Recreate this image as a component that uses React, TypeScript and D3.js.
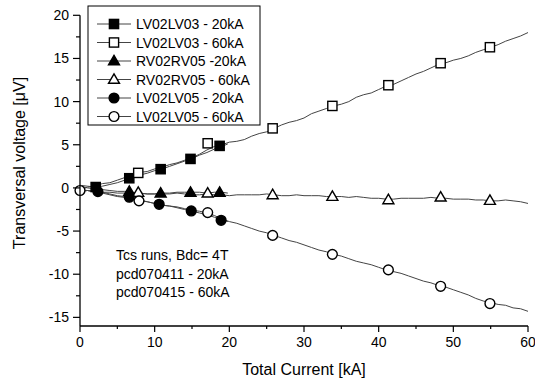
import React from "react";
import * as d3 from "d3";

// ---- Data ----
const xTicks = [0, 10, 20, 30, 40, 50, 60];
const yTicks = [-15, -10, -5, 0, 5, 10, 15, 20];

// noisy traces (current kA, voltage µV)
const traceLV03_60: [number, number][] = [
  [0, -0.3], [1, 0.1], [2, 0.2], [3, 0.5], [4, 0.6], [5, 0.9], [6, 1.2], [7, 1.4], [8, 1.8], [9, 1.9], [10, 2.2], [11, 2.4], [12, 2.7], [13, 2.9], [14, 3.2], [15, 3.5], [16, 3.9], [17, 4.4], [18, 4.8], [19, 5.0], [20, 5.3], [21, 5.4], [22, 5.6], [23, 6.0], [24, 6.3], [25, 6.5], [26, 6.9], [27, 7.3], [28, 7.6], [29, 7.8], [30, 8.1], [31, 8.6], [32, 8.9], [33, 9.2], [34, 9.5], [35, 9.7], [36, 10.0], [37, 10.5], [38, 10.8], [39, 11.0], [40, 11.4], [41, 11.8], [42, 12.0], [43, 12.4], [44, 12.8], [45, 13.2], [46, 13.5], [47, 13.9], [48, 14.3], [49, 14.5], [50, 14.8], [51, 15.0], [52, 15.3], [53, 15.7], [54, 16.0], [55, 16.3], [56, 16.6], [57, 17.0], [58, 17.3], [59, 17.6], [60, 18.0],
];
const traceLV03_20: [number, number][] = [
  [0, 0.3], [1, 0.2], [2, 0.1], [3, 0.2], [4, 0.4], [5, 0.6], [6, 0.9], [7, 1.2], [8, 1.5], [9, 1.7], [10, 2.0], [11, 2.2], [12, 2.5], [13, 2.8], [14, 3.1], [15, 3.4], [16, 3.8], [17, 4.1], [18, 4.5], [19, 4.8], [19.8, 5.1],
];
const traceRV05_20: [number, number][] = [
  [0, 0.2], [1, 0.0], [2, -0.1], [3, -0.2], [4, -0.3], [5, -0.4], [6, -0.4], [7, -0.5], [8, -0.6], [9, -0.7], [10, -0.7], [11, -0.6], [12, -0.6], [13, -0.5], [14, -0.5], [15, -0.5], [16, -0.5], [17, -0.6], [18, -0.5], [19, -0.5], [19.8, -0.6],
];
const traceRV05_60: [number, number][] = [
  [0, -0.5], [1, -0.3], [2, -0.4], [3, -0.5], [4, -0.5], [5, -0.6], [6, -0.6], [7, -0.6], [8, -0.6], [9, -0.7], [10, -0.7], [11, -0.7], [12, -0.7], [13, -0.6], [14, -0.7], [15, -0.8], [16, -0.8], [17, -0.7], [18, -0.8], [19, -0.8], [20, -0.9], [21, -0.8], [22, -0.8], [23, -0.8], [24, -0.8], [25, -0.7], [26, -0.8], [27, -0.9], [28, -0.9], [29, -0.8], [30, -0.9], [31, -0.9], [32, -0.9], [33, -1.0], [34, -1.0], [35, -1.0], [36, -1.1], [37, -1.0], [38, -1.1], [39, -1.2], [40, -1.2], [41, -1.3], [42, -1.3], [43, -1.2], [44, -1.2], [45, -1.2], [46, -1.2], [47, -1.1], [48, -1.2], [49, -1.2], [50, -1.3], [51, -1.3], [52, -1.3], [53, -1.4], [54, -1.4], [55, -1.5], [56, -1.5], [57, -1.4], [58, -1.5], [59, -1.6], [60, -1.8],
];
const traceLV05_20: [number, number][] = [
  [0, -0.3], [1, -0.3], [2, -0.4], [3, -0.5], [4, -0.7], [5, -0.9], [6, -1.0], [7, -1.2], [8, -1.4], [9, -1.6], [10, -1.8], [11, -2.0], [12, -2.1], [13, -2.3], [14, -2.5], [15, -2.7], [16, -2.9], [17, -3.1], [18, -3.4], [19, -3.7], [19.8, -3.9],
];
const traceLV05_60: [number, number][] = [
  [0, -0.2], [1, -0.3], [2, -0.5], [3, -0.6], [4, -0.8], [5, -1.0], [6, -1.1], [7, -1.3], [8, -1.5], [9, -1.6], [10, -1.8], [11, -2.0], [12, -2.1], [13, -2.2], [14, -2.4], [15, -2.6], [16, -2.7], [17, -2.9], [18, -3.2], [19, -3.6], [20, -3.9], [21, -4.1], [22, -4.4], [23, -4.7], [24, -5.0], [25, -5.2], [26, -5.5], [27, -5.8], [28, -6.1], [29, -6.3], [30, -6.6], [31, -6.9], [32, -7.2], [33, -7.4], [34, -7.7], [35, -7.9], [36, -8.2], [37, -8.5], [38, -8.7], [39, -8.9], [40, -9.2], [41, -9.5], [42, -9.7], [43, -9.9], [44, -10.2], [45, -10.5], [46, -10.8], [47, -11.0], [48, -11.3], [49, -11.5], [50, -11.8], [51, -12.1], [52, -12.4], [53, -12.8], [54, -13.1], [55, -13.3], [56, -13.5], [57, -13.6], [58, -13.9], [59, -14.0], [60, -14.3],
];

// markers
const ptsLV03_20: [number, number][] = [[2.1, 0.1], [6.6, 1.12], [10.8, 2.17], [14.8, 3.36], [18.7, 4.87]];
const ptsLV03_60: [number, number][] = [[7.8, 1.74], [17.1, 5.17], [25.8, 6.9], [33.8, 9.5], [41.3, 11.9], [48.3, 14.45], [54.9, 16.3]];
const ptsRV05_20: [number, number][] = [[6.6, -0.43], [10.8, -0.62], [14.8, -0.54], [18.7, -0.54]];
const ptsRV05_60: [number, number][] = [[7.8, -0.54], [17.1, -0.62], [25.8, -0.81], [33.8, -1.0], [41.3, -1.39], [48.3, -1.08], [54.9, -1.47]];
const ptsLV05_20: [number, number][] = [[2.4, -0.43], [6.6, -1.08], [10.6, -1.9], [14.9, -2.67], [18.9, -3.75]];
const ptsLV05_60: [number, number][] = [[0, -0.3], [7.9, -1.5], [17.1, -2.86], [25.8, -5.5], [33.8, -7.7], [41.3, -9.5], [48.3, -11.4], [54.9, -13.4]];

const legendLabels = [
  "LV02LV03 - 20kA",
  "LV02LV03 - 60kA",
  "RV02RV05 -20kA",
  "RV02RV05 - 60kA",
  "LV02LV05 - 20kA",
  "LV02LV05 - 60kA",
];
const annotationLines = ["Tcs runs, Bdc= 4T", "pcd070411 - 20kA", "pcd070415 - 60kA"];

type Shape = "square" | "triangle" | "circle";
const FONT = "Liberation Sans, Arial, sans-serif";

function Marker({ shape, filled, cx, cy }: { shape: Shape; filled: boolean; cx: number; cy: number }) {
  const fill = filled ? "#000" : "#fff";
  const sw = 1.4;
  if (shape === "square") {
    const s = 9.2;
    return <rect x={cx - s / 2} y={cy - s / 2} width={s} height={s} fill={fill} stroke="#000" strokeWidth={sw} />;
  }
  if (shape === "circle") {
    return <circle cx={cx} cy={cy} r={4.9} fill={fill} stroke="#000" strokeWidth={sw} />;
  }
  const h = 9.5, w = 11;
  const p = `M${cx},${cy - h * 0.6} L${cx + w / 2},${cy + h * 0.4} L${cx - w / 2},${cy + h * 0.4} Z`;
  return <path d={p} fill={fill} stroke="#000" strokeWidth={sw} strokeLinejoin="miter" />;
}

export default function App() {
  const x = d3.scaleLinear().domain([0, 60]).range([80, 528]);
  const y = d3.scaleLinear().domain([-16, 20]).range([326, 15.3]);
  const line = d3.line<[number, number]>().x((d) => x(d[0])).y((d) => y(d[1]));

  const series = [
    { trace: traceLV03_20, pts: ptsLV03_20, shape: "square" as Shape, filled: true },
    { trace: traceLV03_60, pts: ptsLV03_60, shape: "square" as Shape, filled: false },
    { trace: traceRV05_20, pts: ptsRV05_20, shape: "triangle" as Shape, filled: true },
    { trace: traceRV05_60, pts: ptsRV05_60, shape: "triangle" as Shape, filled: false },
    { trace: traceLV05_20, pts: ptsLV05_20, shape: "circle" as Shape, filled: true },
    { trace: traceLV05_60, pts: ptsLV05_60, shape: "circle" as Shape, filled: false },
  ];

  const yMinor = d3.range(-15, 20.01, 2.5);
  const xMinor = d3.range(0, 60.01, 5);

  const legX = 88, legY = 6, legW = 172, legH = 119;
  const rowH = 18.5;

  return (
    <svg width={535} height={384} style={{ position: "absolute", left: 0, top: 0, background: "#fff" }} fontFamily={FONT}>
      <rect width={535} height={384} fill="#fff" />
      {/* traces */}
      {series.map((s, i) => (
        <path key={"t" + i} d={line(s.trace) || ""} fill="none" stroke="#444" strokeWidth={1} />
      ))}
      {/* markers */}
      {series.map((s, i) => (
        <g key={"m" + i}>
          {s.pts.map((p, j) => (
            <Marker key={j} shape={s.shape} filled={s.filled} cx={x(p[0])} cy={y(p[1])} />
          ))}
        </g>
      ))}
      {/* axes */}
      <line x1={x(0)} x2={x(0)} y1={y(20)} y2={y(-16)} stroke="#000" strokeWidth={1.3} />
      <line x1={x(0)} x2={x(60)} y1={y(-16)} y2={y(-16)} stroke="#000" strokeWidth={1.3} />
      {yMinor.map((v) => {
        const major = Math.abs(v % 5) < 1e-6;
        return <line key={"ym" + v} x1={x(0) - (major ? 7 : 4)} x2={x(0)} y1={y(v)} y2={y(v)} stroke="#000" strokeWidth={1.2} />;
      })}
      {xMinor.map((v) => {
        const major = Math.abs(v % 10) < 1e-6;
        return <line key={"xm" + v} x1={x(v)} x2={x(v)} y1={y(-16)} y2={y(-16) + (major ? 6 : 3)} stroke="#000" strokeWidth={1.2} />;
      })}
      {yTicks.map((v) => (
        <text key={"yl" + v} x={x(0) - 11} y={y(v)} dy="0.36em" textAnchor="end" fontSize={14} fill="#000">
          {v}
        </text>
      ))}
      {xTicks.map((v) => (
        <text key={"xl" + v} x={x(v)} y={347} textAnchor="middle" fontSize={14} fill="#000">
          {v}
        </text>
      ))}
      <text x={(x(0) + x(60)) / 2} y={375} textAnchor="middle" fontSize={16} fill="#000">
        Total Current [kA]
      </text>
      <text transform={`translate(25,163) rotate(-90)`} textAnchor="middle" fontSize={16} fill="#000">
        Transversal voltage [μV]
      </text>
      {/* legend */}
      <rect x={legX} y={legY} width={legW} height={legH} fill="#fff" stroke="#000" strokeWidth={1} />
      {series.map((s, i) => {
        const cy = 24 + i * rowH;
        return (
          <g key={"lg" + i}>
            <line x1={97} x2={131} y1={cy} y2={cy} stroke="#444" strokeWidth={1} />
            <Marker shape={s.shape} filled={s.filled} cx={114} cy={cy} />
            <text x={136} y={cy} dy="0.36em" fontSize={14} fill="#000">
              {legendLabels[i]}
            </text>
          </g>
        );
      })}
      {/* annotation */}
      {annotationLines.map((t, i) => (
        <text key={"an" + i} x={116} y={260 + i * 18.6} fontSize={14} fill="#000">
          {t}
        </text>
      ))}
    </svg>
  );
}
